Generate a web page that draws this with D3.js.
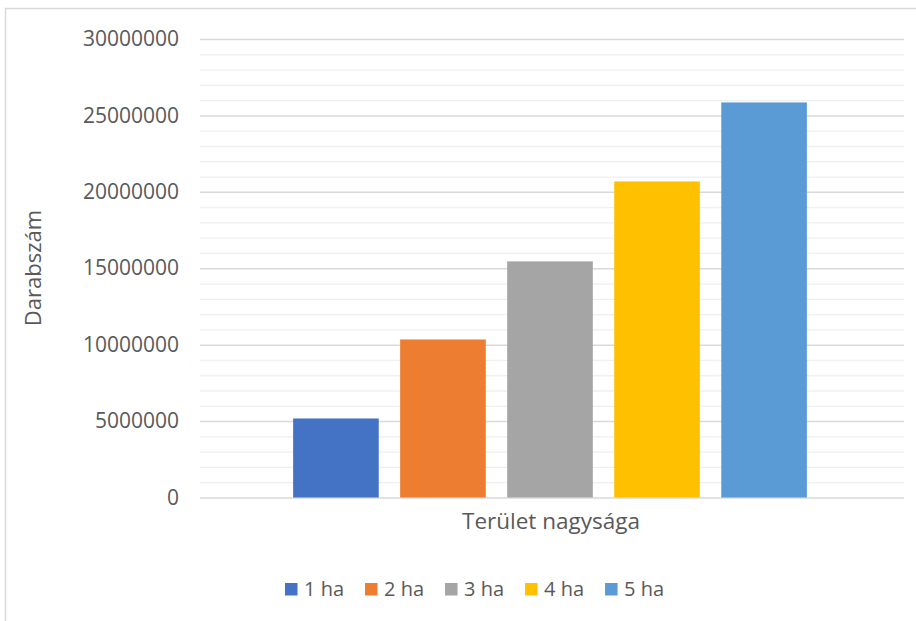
<!DOCTYPE html>
<html>
<head>
<meta charset="utf-8">
<script src="https://cdn.jsdelivr.net/npm/d3@7"></script>
<style>
  body { margin: 0; background: #fff; }
  text { font-family: "Open Sans", sans-serif; fill: #595959; }
</style>
</head>
<body>
<div id="chart"></div>
<script>
// data
const series = ["1 ha", "2 ha", "3 ha", "4 ha", "5 ha"]
const values = [5170000, 10340000, 15450000, 20680000, 25850000]
const colors = ["#4472c4", "#ed7d31", "#a5a5a5", "#ffc000", "#5b9bd5"]
const yTicks = [0, 5000000, 10000000, 15000000, 20000000, 25000000, 30000000]
const xTitle = "Terület nagysága"
const yTitle = "Darabszám"

const W = 916, H = 621
const margin = { top: 39, right: 12, bottom: 124, left: 200 }
const width = W - margin.left - margin.right,
    height = H - margin.top - margin.bottom

const svg = d3.select("#chart").append("svg")
    .attr("width", W)
    .attr("height", H)

// chart border
svg.append("rect")
    .attr("x", 5.5).attr("y", 8.5)
    .attr("width", W + 10).attr("height", H + 10)
    .attr("fill", "none")
    .attr("stroke", "#d9d9d9")
    .attr("stroke-width", 1.5)

const g = svg.append("g")
    .attr("transform", "translate(" + margin.left + "," + margin.top + ")")

let y = d3.scaleLinear()
    .domain([0, 30000000])
    .range([height + 0.5, 0])

// bars sit in 0..700 of the plot, gridlines run a bit further
let x = d3.scaleBand()
    .domain(series)
    .range([0, 700])
    .paddingInner(0.2)
    .paddingOuter(0.87)

// minor gridlines
g.append("g")
    .call(d3.axisLeft(y).tickValues(d3.range(0, 30000001, 1000000).filter(v => v % 5000000 !== 0))
        .tickSize(-width).tickFormat(""))
    .call(a => {
        a.select(".domain").remove()
        a.selectAll(".tick line").attr("stroke", "#efefef").attr("stroke-width", 1.3)
    })

// major gridlines + labels
g.append("g")
    .call(d3.axisLeft(y).tickValues(yTicks).tickSize(-width).tickPadding(21)
        .tickFormat(d3.format("d")))
    .call(a => {
        a.select(".domain").remove()
        a.selectAll(".tick line").attr("stroke", "#d9d9d9").attr("stroke-width", 1.5)
        a.selectAll(".tick text").attr("font-size", 21).attr("fill", "#595959")
            .style("font-family", "'Open Sans', sans-serif")
    })

// bars
g.selectAll(".bar")
    .data(values)
    .enter().append("rect")
    .attr("class", "bar")
    .attr("x", (d, i) => x(series[i]))
    .attr("width", x.bandwidth())
    .attr("y", d => y(d))
    .attr("height", d => y(0) - y(d))
    .attr("fill", (d, i) => colors[i])

// axis titles
g.append("text")
    .attr("x", 351)
    .attr("y", height + 32)
    .attr("text-anchor", "middle")
    .attr("font-size", 22.5)
    .text(xTitle)

svg.append("text")
    .attr("transform", "translate(41," + (margin.top + height / 2) + ") rotate(-90)")
    .attr("text-anchor", "middle")
    .attr("font-size", 22)
    .text(yTitle)

// legend
const legend = svg.append("g")
    .attr("transform", "translate(285,589)")

let lx = 0
series.forEach((s, i) => {
    const item = legend.append("g").attr("transform", "translate(" + lx + ",0)")
    item.append("rect")
        .attr("x", 0).attr("y", -6)
        .attr("width", 12.5).attr("height", 12.5)
        .attr("fill", colors[i])
    const t = item.append("text")
        .attr("x", 19).attr("y", 0)
        .attr("dy", "0.35em")
        .attr("font-size", 20)
        .text(s)
    lx += 19 + t.node().getComputedTextLength() + 21
})
</script>
</body>
</html>
